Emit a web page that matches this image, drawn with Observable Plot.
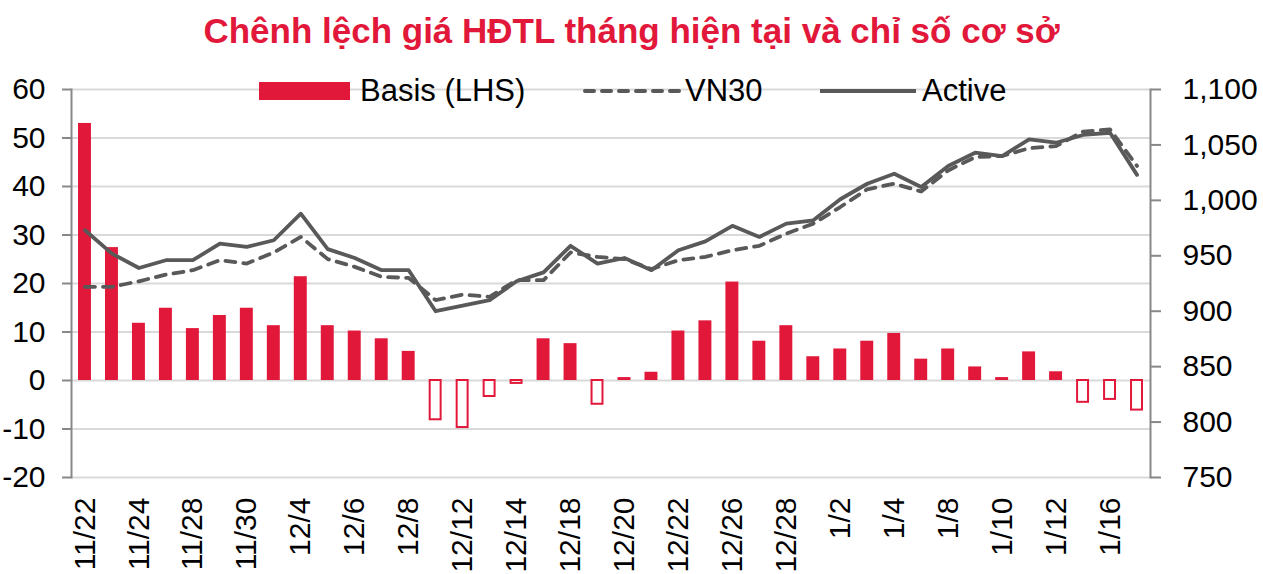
<!DOCTYPE html>
<html>
<head>
<meta charset="utf-8">
<script src="https://cdn.jsdelivr.net/npm/d3@7"></script>
<script src="https://cdn.jsdelivr.net/npm/@observablehq/plot@0.6"></script>
<style>
  html, body { margin: 0; padding: 0; background: #fff; }
  #wrap { position: relative; width: 1263px; height: 574px; font-family: "Liberation Sans", Arial, sans-serif; }
  #title { height: 62px; line-height: 62px; text-align: center; color: #E2183A; font-weight: bold; font-size: 35px; font-family: "Liberation Sans", Arial, sans-serif; white-space: nowrap; }
  .leg { position: absolute; top: 76px; height: 30px; display: flex; align-items: center; font-size: 31px; color: #000; }
  .leg svg { display: block; }
</style>
</head>
<body>
<div id="wrap">
  <div id="title">Chênh lệch giá HĐTL tháng hiện tại và chỉ số cơ sở</div>
  <div id="chart"></div>
</div>
<script>
const categories = ["11/22","11/23","11/24","11/27","11/28","11/29","11/30","12/1","12/4","12/5",
  "12/6","12/7","12/8","12/11","12/12","12/13","12/14","12/15","12/18","12/19",
  "12/20","12/21","12/22","12/25","12/26","12/27","12/28","12/29","1/2","1/3",
  "1/4","1/5","1/8","1/9","1/10","1/11","1/12","1/15","1/16","1/17"];
const tickLabels = ["11/22","11/24","11/28","11/30","12/4","12/6","12/8","12/12","12/14","12/18",
  "12/20","12/22","12/26","12/28","1/2","1/4","1/8","1/10","1/12","1/16"];
const basis = [53.0, 27.4, 11.8, 14.9, 10.7, 13.4, 14.9, 11.3, 21.4, 11.3,
  10.2, 8.6, 6.0, -8.1, -9.7, -3.3, -0.6, 8.6, 7.6, -4.9,
  0.6, 1.7, 10.2, 12.3, 20.3, 8.1, 11.3, 4.9, 6.5, 8.1,
  9.7, 4.4, 6.5, 2.8, 0.6, 5.9, 1.8, -4.5, -3.9, -6.1];
const vn30 = [922, 922, 927, 933, 937, 946, 943, 953, 967, 947,
  940, 931, 930, 910, 915, 913, 928, 928, 953, 949,
  947, 938, 946, 949, 955, 959, 970, 979, 994, 1010,
  1015, 1008, 1027, 1039, 1040, 1047, 1049, 1062, 1064, 1031];
const active = [973, 952, 939, 946, 946, 961, 958, 964, 988, 956,
  948, 937, 937, 900, 905, 910, 927, 935, 959, 943,
  948, 937, 955, 963, 977, 967, 979, 982, 1001, 1015,
  1024, 1012, 1031, 1043, 1040, 1055, 1052, 1059, 1061, 1023];
const leftTicks = [-20, -10, 0, 10, 20, 30, 40, 50, 60];
const rightTicks = [750, 800, 850, 900, 950, 1000, 1050, 1100];
const leftDomain = [-20, 60];
const rightDomain = [750, 1100];

const RED = "#E2183A";
const GREY = "#595959";

// map right-axis values onto the left scale
const toLeft = v => leftDomain[0] + (v - rightDomain[0]) / (rightDomain[1] - rightDomain[0]) * (leftDomain[1] - leftDomain[0]);
const fromLeft = y => rightDomain[0] + (y - leftDomain[0]) / (leftDomain[1] - leftDomain[0]) * (rightDomain[1] - rightDomain[0]);

const bars = categories.map((c, i) => ({cat: c, value: basis[i]}));
const lines = categories.flatMap((c, i) => [
  {cat: c, series: "VN30", value: toLeft(vn30[i])},
  {cat: c, series: "Active", value: toLeft(active[i])}
]);
const fmt = d3.format(",");

const chart = Plot.plot({
  width: 1263,
  height: 512,
  marginTop: 27,
  marginBottom: 97,
  marginLeft: 71,
  marginRight: 113,
  style: {fontFamily: "'Liberation Sans', Arial, sans-serif", fontSize: "30px", color: "#000", background: "#fff"},
  x: {type: "band", domain: categories, paddingInner: 0.52, paddingOuter: 0.26, label: null},
  y: {domain: leftDomain, label: null},
  marks: [
    Plot.gridY(leftTicks, {stroke: "#D9D9D9", strokeOpacity: 1, strokeWidth: 2}),
    Plot.barY(bars.filter(d => d.value >= 0), {x: "cat", y: "value", fill: RED}),
    Plot.barY(bars.filter(d => d.value < 0), {x: "cat", y: "value", fill: "#fff", stroke: RED, strokeWidth: 2, insetLeft: 1, insetRight: 1}),
    Plot.line(lines.filter(d => d.series === "VN30"), {x: "cat", y: "value", stroke: GREY, strokeWidth: 3.8, strokeDasharray: "10,8", strokeLinecap: "round", strokeLinejoin: "round"}),
    Plot.line(lines.filter(d => d.series === "Active"), {x: "cat", y: "value", stroke: GREY, strokeWidth: 3.8, strokeLinejoin: "round"}),
    Plot.frame({anchor: "left", stroke: "#888", strokeWidth: 2}),
    Plot.frame({anchor: "right", stroke: "#888", strokeWidth: 2}),
    Plot.axisY(leftTicks, {anchor: "left", tickSize: 9, tickPadding: 17, stroke: "#888", strokeWidth: 2, fill: "#000", fontSize: 30, tickFormat: d => String(d), label: null}),
    Plot.axisY(rightTicks.map(toLeft), {anchor: "right", tickSize: 10, tickPadding: 22, stroke: "#888", strokeWidth: 2, fill: "#000", fontSize: 30, textAnchor: "start", tickFormat: d => fmt(Math.round(fromLeft(d))), label: null}),
    Plot.axisX(tickLabels, {anchor: "bottom", tickSize: 0, tickPadding: 20, tickRotate: -90, fill: "#000", fontSize: 30, label: null})
  ]
});
document.getElementById("chart").appendChild(chart);

// legend (HTML overlay, above plot area)
const wrap = document.getElementById("wrap");
const legendItems = [
  {label: "Basis (LHS)", left: 259, swatch: `<svg width="91" height="18"><rect x="0" y="0" width="91" height="18" fill="${RED}"/></svg>`, gap: 10},
  {label: "VN30", left: 583, swatch: `<svg width="98" height="10"><line x1="2" y1="5" x2="96" y2="5" stroke="${GREY}" stroke-width="4" stroke-dasharray="9,8" stroke-linecap="round"/></svg>`, gap: 4},
  {label: "Active", left: 820, swatch: `<svg width="96" height="10"><line x1="0" y1="5" x2="96" y2="5" stroke="${GREY}" stroke-width="4"/></svg>`, gap: 6}
];
for (const it of legendItems) {
  const div = document.createElement("div");
  div.className = "leg";
  div.style.left = it.left + "px";
  div.innerHTML = it.swatch + `<span style="margin-left:${it.gap}px">${it.label}</span>`;
  wrap.appendChild(div);
}
</script>
</body>
</html>
